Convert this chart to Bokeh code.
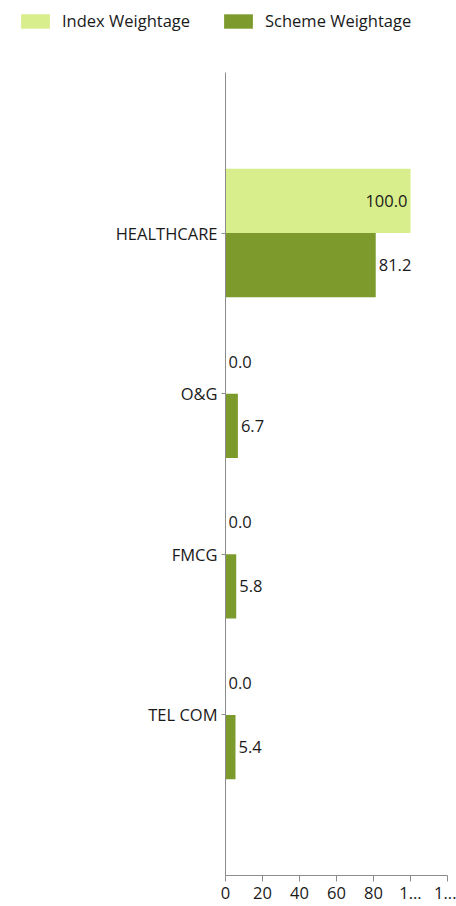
from bokeh.plotting import figure
from bokeh.layouts import column, row
from bokeh.models import ColumnDataSource, Legend, LegendItem, FixedTicker, Range1d
from bokeh.core.properties import value
from bokeh.embed import file_html
from bokeh.resources import INLINE

categories = ["HEALTHCARE", "O&G", "FMCG", "TEL COM"]
index_weightage = [100.0, 0.0, 0.0, 0.0]
scheme_weightage = [81.2, 6.7, 5.8, 5.4]
series_names = ["Index Weightage", "Scheme Weightage"]
x_ticks = [0, 20, 40, 60, 80, 100, 120]
x_tick_labels = ["0", "20", "40", "60", "80", "1...", "1..."]

FONT = "Open Sans"
FS = "16.5px"
INDEX_COLOR = "#d8ed8b"
SCHEME_COLOR = "#7d9b2c"
TEXT_COLOR = "#1a1a1a"

n = len(categories)
pos = [n - i for i in range(n)]  # HEALTHCARE at top


def make_src(vals, dy):
    return ColumnDataSource(dict(
        y=[p_ + dy for p_ in pos], v=vals,
        lab=[f"{v:.1f}" for v in vals],
        align=["right" if v > 95 else "left" for v in vals],
        off=[-3 if v > 95 else 3 for v in vals],
    ))


src_idx = make_src(index_weightage, 0.2)
src_sch = make_src(scheme_weightage, -0.2)

W, H = 456, 906
LH = 50  # legend strip height
ML, MR, MT, MB = 225, 9, 72 - LH, 31
p = figure(width=W, height=H - LH, output_backend="svg", toolbar_location=None,
           x_range=Range1d(0, 120), y_range=Range1d(0, n + 1),
           min_border_left=ML, min_border_right=MR, min_border_top=MT,
           min_border_bottom=MB)
p.outline_line_color = None
p.xgrid.visible = False
p.ygrid.visible = False

p.hbar(y="y", right="v", left=0, height=0.4, source=src_idx,
       fill_color=INDEX_COLOR, line_color=None)
p.hbar(y="y", right="v", left=0, height=0.4, source=src_sch,
       fill_color=SCHEME_COLOR, line_color=None)

for s in (src_idx, src_sch):
    p.text(x="v", y="y", text="lab", source=s, text_align="align",
           x_offset="off", text_baseline="middle",
           text_font=value(FONT), text_font_size=FS, text_color=TEXT_COLOR)

p.xaxis.ticker = FixedTicker(ticks=x_ticks)
p.xaxis.major_label_overrides = {t: l for t, l in zip(x_ticks, x_tick_labels)}
p.yaxis.ticker = FixedTicker(ticks=pos)
p.yaxis.major_label_overrides = {pp: c for pp, c in zip(pos, categories)}
for ax in (p.xaxis, p.yaxis):
    ax.axis_line_color = "#8c8c8c"
    ax.major_tick_line_color = "#8c8c8c"
    ax.minor_tick_line_color = None
    ax.major_tick_in = 0
    ax.major_label_text_font = FONT
    ax.major_label_text_font_size = FS
    ax.major_label_text_color = TEXT_COLOR
p.xaxis.major_tick_out = 6
p.yaxis.major_tick_out = 4
p.yaxis.major_label_standoff = 4
p.xaxis.major_label_standoff = 5

# legend strip
lg = figure(width=W, height=LH, output_backend="svg", toolbar_location=None,
            x_range=Range1d(0, 1), y_range=Range1d(0, 1),
            x_axis_location=None, y_axis_location=None,
            min_border_left=0, min_border_right=0, min_border_top=0,
            min_border_bottom=0)
lg.outline_line_color = None
lg.xgrid.visible = False
lg.ygrid.visible = False
dummy = dict(y=[-10.0], v=[0.0])
l1 = lg.hbar(y="y", right="v", left=0, height=0.4, source=ColumnDataSource(dummy),
             fill_color=INDEX_COLOR, line_color=None)
l2 = lg.hbar(y="y", right="v", left=0, height=0.4, source=ColumnDataSource(dummy),
             fill_color=SCHEME_COLOR, line_color=None)
legend = Legend(items=[LegendItem(label=series_names[0], renderers=[l1]),
                       LegendItem(label=series_names[1], renderers=[l2])],
                orientation="horizontal", location=(17, LH - 32),
                glyph_width=36, glyph_height=18, spacing=30,
                label_text_font=FONT, label_text_font_size=FS,
                label_text_color=TEXT_COLOR, border_line_color=None,
                background_fill_alpha=0, padding=0, margin=0,
                label_standoff=9)
lg.add_layout(legend, "center")

layout = column(row(lg), p, spacing=0)
open("out.html", "w").write(file_html(layout, INLINE))
